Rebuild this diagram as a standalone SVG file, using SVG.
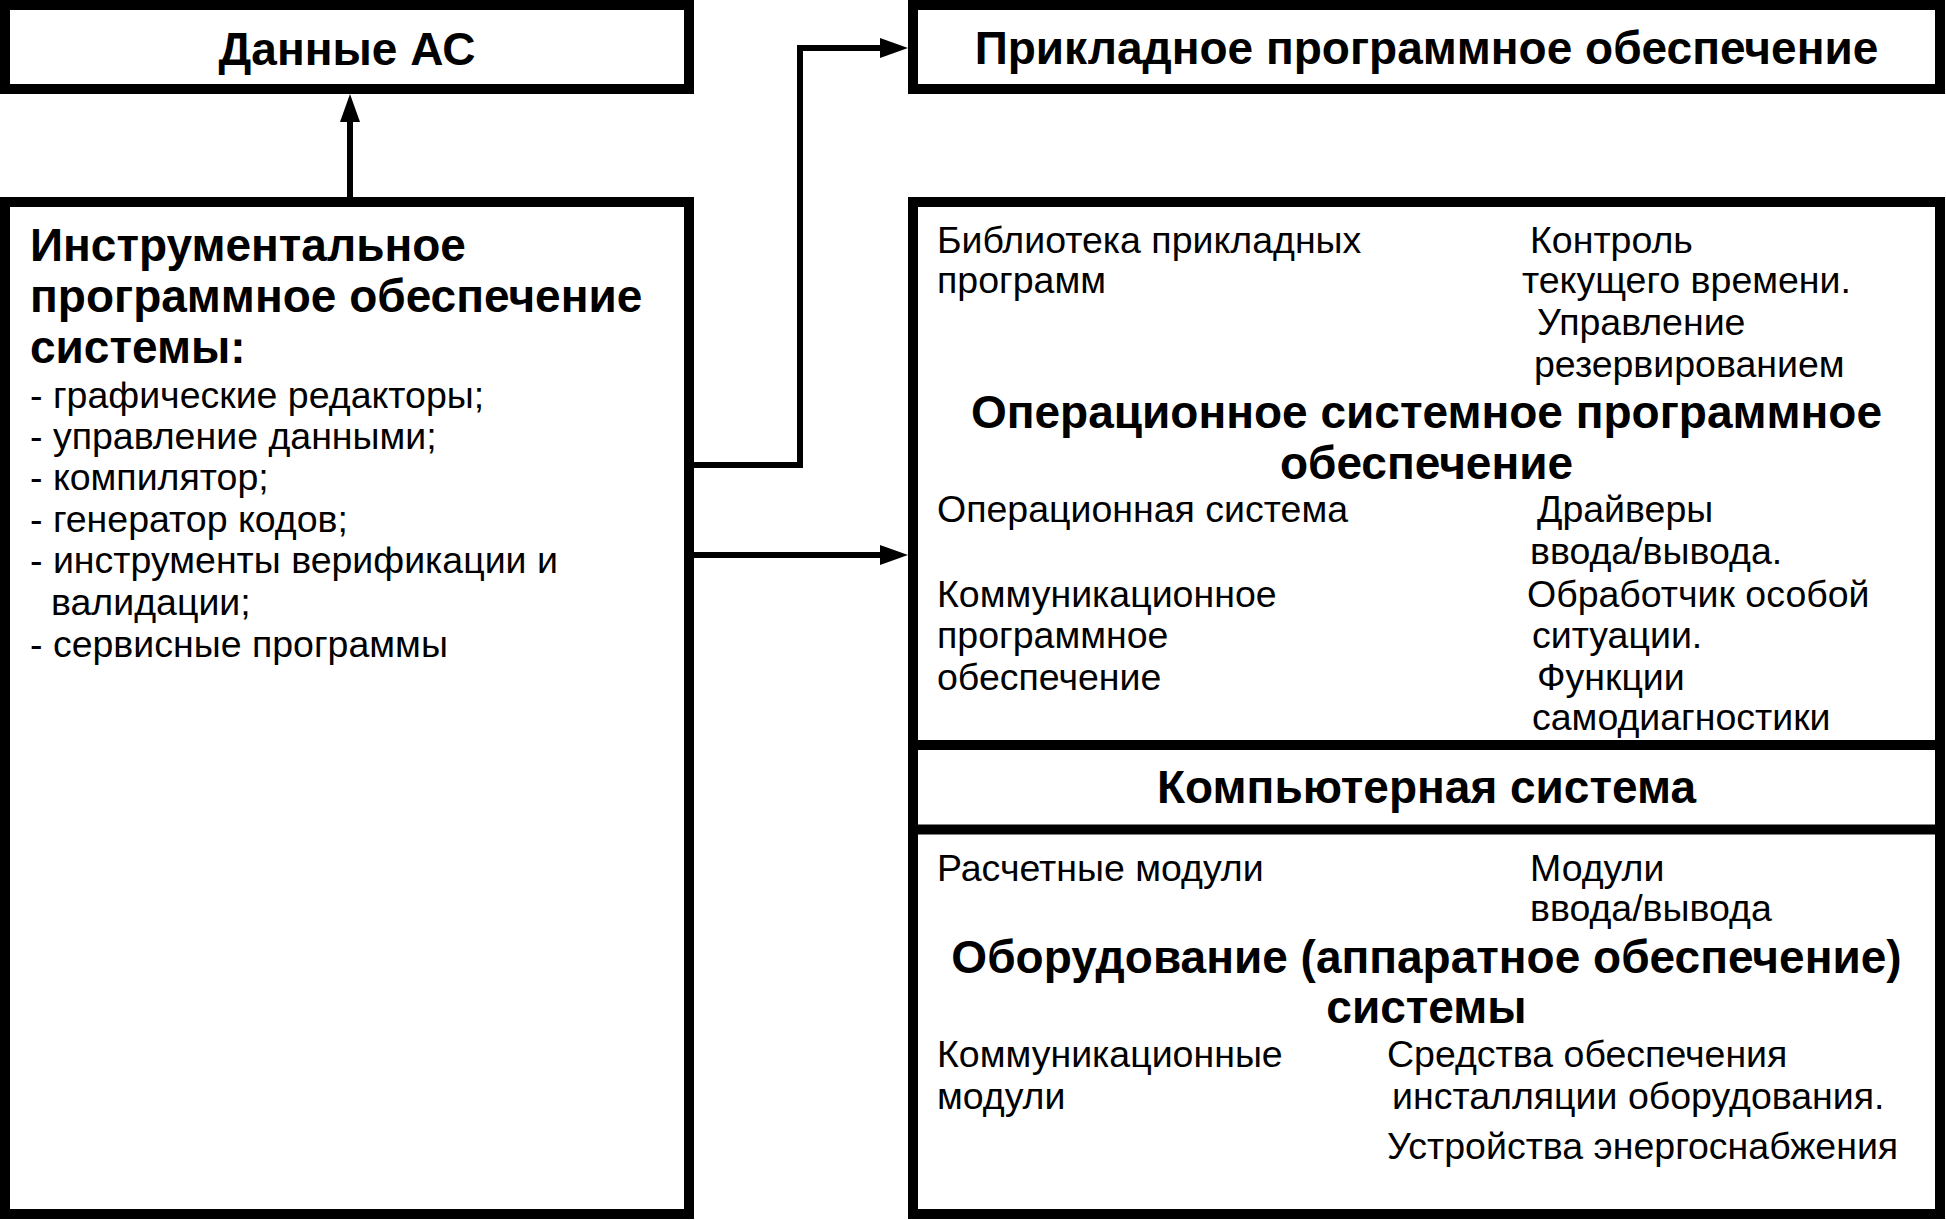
<svg xmlns="http://www.w3.org/2000/svg" width="1946" height="1220" viewBox="0 0 1946 1220">
<style>
.box{fill:#fff;stroke:#000;stroke-width:10}
.div{stroke:#000;stroke-width:10}
.con{fill:none;stroke:#000;stroke-width:6}
.t{font-family:"Liberation Sans",Arial,sans-serif;font-size:37.5px;fill:#000}
.b{font-family:"Liberation Sans",Arial,sans-serif;font-size:46px;font-weight:bold;fill:#000}
.c{text-anchor:middle}
</style>
<defs>
<marker id="arr" markerUnits="userSpaceOnUse" markerWidth="28" markerHeight="20" refX="0" refY="10" orient="auto">
<path d="M0,0 L28,10 L0,20 Z" fill="#000"/>
</marker>
</defs>
<rect width="1946" height="1220" fill="#fff"/>
<g id="connectors">
<path class="con" d="M350,197 V122" marker-end="url(#arr)"/>
<path class="con" d="M694,465 H800 V48 H880" marker-end="url(#arr)"/>
<path class="con" d="M694,555 H880" marker-end="url(#arr)"/>
</g>
<g id="data">
<rect class="box" x="5" y="5" width="684" height="84"/>
<text class="b c" x="347" y="65">Данные АС</text>
</g>
<g id="app">
<rect class="box" x="913" y="5" width="1027" height="84"/>
<text class="b c" x="1426.5" y="64">Прикладное программное обеспечение</text>
</g>
<g id="tools">
<rect class="box" x="5" y="202" width="684" height="1012"/>
<text class="b" x="30" y="261">Инструментальное</text>
<text class="b" x="30" y="312">программное обеспечение</text>
<text class="b" x="30" y="363">системы:</text>
<text class="t" x="30" y="408">- графические редакторы;</text>
<text class="t" x="30" y="449">- управление данными;</text>
<text class="t" x="30" y="490">- компилятор;</text>
<text class="t" x="30" y="532">- генератор кодов;</text>
<text class="t" x="30" y="573">- инструменты верификации и</text>
<text class="t" x="51" y="615">валидации;</text>
<text class="t" x="30" y="657">- сервисные программы</text>
</g>
<g id="system">
<rect class="box" x="913" y="202" width="1027" height="1012"/>
<line class="div" x1="913" y1="745" x2="1940" y2="745"/>
<line class="div" x1="913" y1="829.5" x2="1940" y2="829.5"/>
</g>
<g id="os">
<text class="t" x="937" y="253">Библиотека прикладных</text>
<text class="t" x="937" y="293">программ</text>
<text class="t" x="1530" y="253">Контроль</text>
<text class="t" x="1522" y="293">текущего времени.</text>
<text class="t" x="1537" y="335">Управление</text>
<text class="t" x="1534" y="377">резервированием</text>
<text class="b c" x="1426.5" y="428">Операционное системное программное</text>
<text class="b c" x="1426.5" y="479">обеспечение</text>
<text class="t" x="937" y="522">Операционная система</text>
<text class="t" x="1537" y="522">Драйверы</text>
<text class="t" x="1530" y="564">ввода/вывода.</text>
<text class="t" x="937" y="607">Коммуникационное</text>
<text class="t" x="1527" y="607">Обработчик особой</text>
<text class="t" x="937" y="648">программное</text>
<text class="t" x="1532" y="648">ситуации.</text>
<text class="t" x="937" y="690">обеспечение</text>
<text class="t" x="1537" y="690">Функции</text>
<text class="t" x="1532" y="730">самодиагностики</text>
</g>
<g id="computer">
<text class="b c" x="1426.5" y="803">Компьютерная система</text>
</g>
<g id="hardware">
<text class="t" x="937" y="881">Расчетные модули</text>
<text class="t" x="1530" y="881">Модули</text>
<text class="t" x="1530" y="921">ввода/вывода</text>
<text class="b c" x="1426.5" y="973">Оборудование (аппаратное обеспечение)</text>
<text class="b c" x="1426.5" y="1023">системы</text>
<text class="t" x="937" y="1067">Коммуникационные</text>
<text class="t" x="937" y="1109">модули</text>
<text class="t" x="1387" y="1067">Средства обеспечения</text>
<text class="t" x="1392" y="1109">инсталляции оборудования.</text>
<text class="t" x="1387" y="1159">Устройства энергоснабжения</text>
</g>
</svg>
